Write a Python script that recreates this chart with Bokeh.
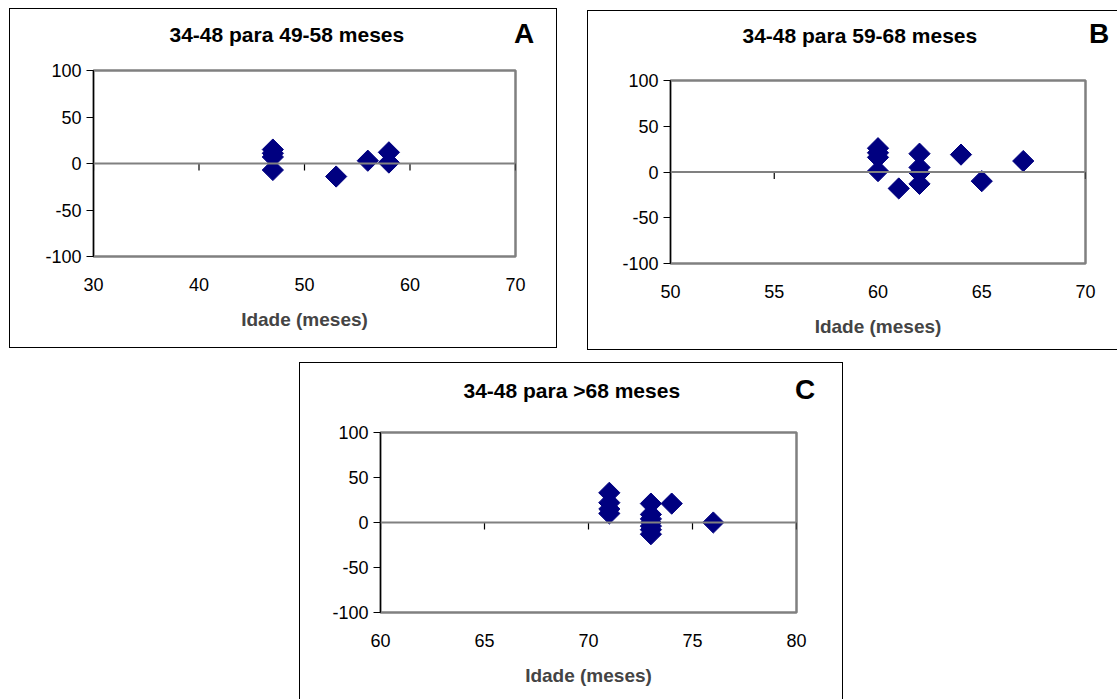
import math
from bokeh.plotting import figure
from bokeh.models import Span, FixedTicker, Spacer, Div
from bokeh.layouts import row, column
from bokeh.embed import file_html
from bokeh.resources import INLINE

# ---------------- data ----------------
titles = ["34-48 para 49-58 meses", "34-48 para 59-68 meses", "34-48 para >68 meses"]
letters = ["A", "B", "C"]
x_label = "Idade (meses)"

a_x = [47, 47, 47, 47, 53, 56, 58, 58]
a_y = [15, 11, 7, -7, -14, 3, 12, 1]

b_x = [60, 60, 60, 60, 61, 62, 62, 62, 62, 64, 65, 67]
b_y = [26, 21, 16, 1, -18, 20, 5, -1, -13, 19, -10, 12]

c_x = [71, 71, 71, 71, 73, 73, 73, 73, 73, 73, 73, 74, 76]
c_y = [33, 22, 15, 10, 21, 9, 4, 0, -4, -8, -13, 21, 0]

a_xticks = [30, 40, 50, 60, 70]
b_xticks = [50, 55, 60, 65, 70]
c_xticks = [60, 65, 70, 75, 80]
y_ticks = [-100, -50, 0, 50, 100]
y_tick_text = ["-100", "-50", "0", "50", "100"]

FONT = "Liberation Sans"
NAVY = "#000080"


def panel(xs, ys, xticks, title, w, h, bl, br, bt, bb, title_off, title_lift):
    p = figure(width=w, height=h, output_backend="svg", toolbar_location=None,
               x_range=(xticks[0], xticks[-1]), y_range=(y_ticks[0], y_ticks[-1]),
               min_border_left=bl, min_border_right=br, min_border_top=bt,
               min_border_bottom=bb, title=title)
    p.styles = {"box-shadow": "0 0 0 1px black"}
    p.background_fill_color = "white"
    p.border_fill_color = "white"
    p.outline_line_color = "#808080"
    p.outline_line_width = 2.5
    p.xgrid.visible = False
    p.ygrid.visible = False

    p.title.align = "left"
    p.title.offset = title_off
    p.title.text_font = FONT
    p.title.text_font_size = "21px"
    p.title.text_font_style = "bold"
    p.title.text_color = "black"
    if "padding" in p.title.properties():
        p.title.padding = (0, 0, 0, title_lift)

    xa = p.below[0]
    ya = p.left[0]

    xa.ticker = FixedTicker(ticks=xticks)
    xa.axis_line_color = None
    xa.major_tick_line_color = None
    xa.minor_tick_line_color = None
    xa.major_label_standoff = 15
    xa.major_label_text_font = FONT
    xa.major_label_text_font_size = "18px"
    xa.major_label_text_color = "black"
    xa.axis_label = x_label
    xa.axis_label_text_font = FONT
    xa.axis_label_text_font_size = "19px"
    xa.axis_label_text_font_style = "bold"
    xa.axis_label_standoff = 15

    ya.ticker = FixedTicker(ticks=y_ticks)
    ya.major_label_overrides = {t: s for t, s in zip(y_ticks, y_tick_text)}
    ya.axis_line_color = "black"
    ya.axis_line_width = 1
    ya.major_tick_line_color = "black"
    ya.major_tick_out = 7
    ya.major_tick_in = 0
    ya.minor_tick_line_color = None
    ya.major_label_standoff = 5
    ya.major_label_text_font = FONT
    ya.major_label_text_font_size = "18px"
    ya.major_label_text_color = "black"

    p.add_layout(Span(location=0, dimension="width", line_color="#808080", line_width=2))
    frame_h = h - bt - bb
    tick_len = 7 * (y_ticks[-1] - y_ticks[0]) / frame_h
    p.segment(x0=xticks, y0=[0] * len(xticks), x1=xticks, y1=[-tick_len] * len(xticks),
              line_color="black", line_width=1.2)

    p.scatter(xs, ys, marker="square", angle=math.pi / 4, size=15,
              fill_color=NAVY, line_color=NAVY)
    return p


def letter_div(text, margin):
    return Div(text=text, width=30, height=34, margin=margin,
               styles={"font-family": FONT, "font-size": "28px", "font-weight": "bold",
                       "line-height": "34px", "text-align": "center", "color": "black",
                       "z-index": "10"})


pa = panel(a_x, a_y, a_xticks, titles[0], 546, 338, 83, 41, 61, 91, 76, 20)
pb = panel(b_x, b_y, b_xticks, titles[1], 529, 338, 82, 32, 69, 86, 72, 29)
pc = panel(c_x, c_y, c_xticks, titles[2], 542, 336, 80, 46, 69, 87, 83, 26)

div_a = letter_div(letters[0], (17, 0, 0, -47))
div_b = letter_div(letters[1], (17, 0, 0, -33))
div_c = letter_div(letters[2], (10, 0, 0, -52))

layout = column(
    row(Spacer(width=10), column(Spacer(height=9), pa), div_a, Spacer(width=49),
        column(Spacer(height=11), pb), div_b),
    Spacer(height=14),
    row(Spacer(width=300), pc, div_c),
)

open("out.html", "w").write(file_html(layout, INLINE))
